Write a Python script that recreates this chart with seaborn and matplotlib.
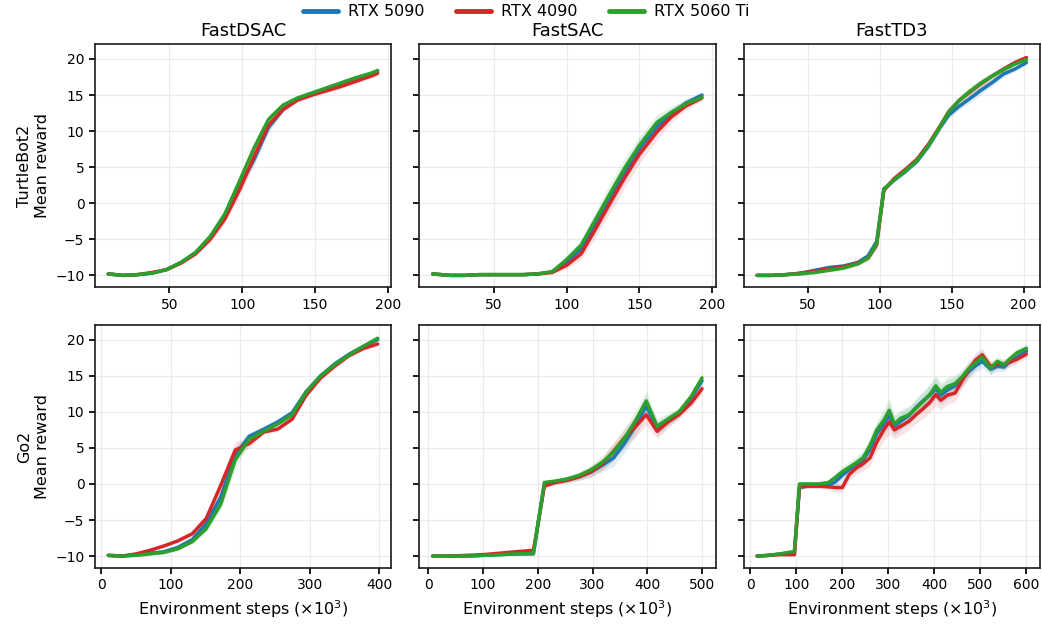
import numpy as np
import matplotlib
matplotlib.use("Agg")
import matplotlib.pyplot as plt
import seaborn as sns

# === Data (mean reward, +/- spread) ===
gpus = ["RTX 5090", "RTX 4090", "RTX 5060 Ti"]
colors = ["#1f77b4", "#d62728", "#2ca02c"]
algos = ["FastDSAC", "FastSAC", "FastTD3"]
robots = ["TurtleBot2", "Go2"]

# TurtleBot2 / FastDSAC
tb_dsac_x = [8, 18, 28, 38, 48, 58, 68, 78, 88, 98, 108, 118, 128, 138, 148, 158, 168, 178, 188, 193]
tb_dsac_5090 = [-9.8, -10.0, -9.9, -9.7, -9.2, -8.2, -6.9, -4.8, -1.8, 2.3, 6.0, 10.5, 13.0, 14.4, 15.2, 15.9, 16.6, 17.3, 17.9, 18.3]
tb_dsac_4090 = [-9.8, -10.0, -9.9, -9.6, -9.2, -8.3, -7.0, -5.0, -2.2, 1.8, 6.4, 10.8, 13.0, 14.3, 15.0, 15.6, 16.2, 16.9, 17.6, 18.0]
tb_dsac_5060 = [-9.8, -10.0, -9.9, -9.7, -9.2, -8.2, -6.8, -4.6, -1.5, 3.0, 7.6, 11.6, 13.6, 14.6, 15.3, 16.0, 16.7, 17.4, 18.0, 18.4]
tb_dsac_sd = [0.1, 0.1, 0.1, 0.1, 0.15, 0.2, 0.3, 0.4, 0.6, 0.8, 0.9, 0.7, 0.4, 0.3, 0.3, 0.3, 0.3, 0.3, 0.3, 0.3]

# TurtleBot2 / FastSAC
tb_sac_x = [8, 20, 30, 40, 50, 60, 70, 80, 90, 100, 110, 120, 130, 140, 150, 162, 172, 182, 193]
tb_sac_5090 = [-9.8, -10.0, -10.0, -9.9, -9.9, -9.9, -9.9, -9.8, -9.5, -8.2, -6.3, -2.8, 0.8, 4.3, 7.6, 10.6, 12.4, 13.9, 15.0]
tb_sac_4090 = [-9.8, -10.0, -10.0, -9.9, -9.9, -9.9, -9.9, -9.8, -9.6, -8.6, -7.0, -3.5, 0.1, 3.6, 6.8, 9.9, 12.0, 13.5, 14.6]
tb_sac_5060 = [-9.8, -10.0, -10.0, -9.9, -9.9, -9.9, -9.9, -9.8, -9.5, -7.8, -5.8, -2.2, 1.4, 4.9, 8.0, 11.2, 12.6, 13.8, 14.7]
tb_sac_sd = [0.1, 0.1, 0.1, 0.1, 0.1, 0.1, 0.1, 0.1, 0.2, 0.5, 0.8, 1.2, 1.4, 1.4, 1.3, 1.1, 0.8, 0.6, 0.4]

# TurtleBot2 / FastTD3
tb_td3_x = [15, 25, 35, 45, 55, 65, 75, 85, 92, 98, 103, 110, 118, 126, 134, 142, 148, 155, 162, 170, 178, 186, 194, 202]
tb_td3_5090 = [-10.0, -10.0, -9.9, -9.7, -9.3, -8.9, -8.7, -8.2, -7.3, -5.3, 1.9, 3.2, 4.4, 5.8, 7.9, 10.5, 12.2, 13.4, 14.4, 15.6, 16.7, 17.9, 18.6, 19.5]
tb_td3_4090 = [-10.0, -10.0, -9.9, -9.7, -9.4, -9.1, -8.8, -8.3, -7.6, -5.8, 1.8, 3.4, 4.7, 6.1, 8.2, 10.7, 12.7, 14.2, 15.3, 16.5, 17.6, 18.6, 19.5, 20.2]
tb_td3_5060 = [-10.0, -10.0, -9.9, -9.8, -9.6, -9.3, -9.0, -8.4, -7.6, -5.6, 2.0, 3.2, 4.5, 5.9, 8.0, 10.6, 12.6, 14.2, 15.4, 16.6, 17.6, 18.5, 19.3, 19.9]
tb_td3_sd = [0.1, 0.1, 0.1, 0.15, 0.2, 0.2, 0.2, 0.3, 0.4, 0.6, 0.3, 0.3, 0.3, 0.3, 0.4, 0.5, 0.5, 0.5, 0.6, 0.6, 0.5, 0.4, 0.3, 0.3]

# Go2 / FastDSAC
go_dsac_x = [10, 30, 50, 70, 90, 110, 131, 151, 172, 193, 213, 234, 254, 275, 295, 316, 337, 357, 378, 398]
go_dsac_5090 = [-9.9, -10.0, -9.8, -9.6, -9.4, -8.8, -7.7, -5.5, -1.8, 4.0, 6.6, 7.6, 8.6, 9.9, 12.8, 15.0, 16.7, 18.0, 19.1, 20.0]
go_dsac_4090 = [-9.9, -10.0, -9.7, -9.2, -8.6, -7.9, -6.9, -4.8, -0.2, 4.7, 5.6, 7.2, 7.6, 9.0, 12.3, 14.7, 16.4, 17.8, 18.8, 19.4]
go_dsac_5060 = [-9.9, -10.0, -9.9, -9.7, -9.5, -9.0, -8.0, -6.2, -2.8, 3.4, 6.2, 7.3, 8.3, 9.6, 12.7, 15.0, 16.6, 17.9, 19.1, 20.2]
go_dsac_sd = [0.1, 0.1, 0.1, 0.1, 0.2, 0.2, 0.3, 0.5, 0.8, 1.2, 0.6, 0.3, 0.3, 0.3, 0.3, 0.3, 0.3, 0.3, 0.3, 0.3]

# Go2 / FastSAC
go_sac_x = [8, 40, 70, 100, 130, 160, 192, 212, 232, 254, 276, 298, 318, 338, 358, 378, 398, 418, 438, 458, 480, 500]
go_sac_5090 = [-10.0, -10.0, -10.0, -9.9, -9.8, -9.7, -9.7, 0.0, 0.3, 0.6, 1.0, 1.7, 2.6, 3.6, 5.6, 8.0, 10.8, 7.7, 8.8, 9.8, 11.9, 14.3]
go_sac_4090 = [-10.0, -10.0, -9.9, -9.8, -9.6, -9.4, -9.2, -0.3, 0.2, 0.5, 1.0, 1.7, 2.8, 4.5, 6.4, 7.9, 9.6, 7.3, 8.6, 9.6, 11.2, 13.2]
go_sac_5060 = [-10.0, -10.0, -10.0, -9.9, -9.8, -9.7, -9.6, 0.2, 0.4, 0.7, 1.2, 2.0, 3.0, 4.4, 6.3, 8.7, 11.5, 8.0, 9.0, 10.0, 12.1, 14.7]
go_sac_sd = [0.1, 0.1, 0.1, 0.1, 0.1, 0.1, 0.2, 0.3, 0.3, 0.4, 0.5, 0.7, 0.9, 1.2, 1.3, 1.4, 1.4, 1.0, 0.8, 0.6, 0.6, 0.7]

# Go2 / FastTD3
go_td3_x = [15, 40, 65, 96, 107, 125, 150, 170, 185, 200, 215, 230, 245, 260, 275, 290, 302, 313, 327, 345,
            360, 375, 390, 403, 414, 428, 445, 461, 475, 490, 504, 522, 537, 551, 565, 580, 600]
go_td3_5090 = [-10.0, -9.9, -9.7, -9.5, -0.5, -0.3, -0.3, -0.2, 0.3, 1.2, 2.0, 2.6, 3.3, 4.8, 7.0, 8.3, 9.5, 8.0, 8.7, 9.5,
               10.6, 11.5, 12.3, 13.2, 12.3, 13.0, 13.6, 14.6, 15.6, 16.4, 17.0, 15.9, 16.3, 16.2, 17.0, 17.6, 18.4]
go_td3_4090 = [-10.0, -9.9, -9.8, -9.8, -0.4, -0.3, -0.3, -0.4, -0.5, -0.5, 1.3, 2.2, 2.8, 3.6, 5.8, 7.5, 8.6, 7.5, 8.0, 8.7,
               9.6, 10.4, 11.3, 12.4, 11.6, 12.3, 12.6, 14.4, 15.9, 17.2, 17.9, 16.3, 16.6, 16.6, 16.9, 17.3, 18.0]
go_td3_5060 = [-10.0, -9.9, -9.7, -9.35, 0.0, 0.0, 0.0, 0.2, 0.9, 1.7, 2.3, 2.9, 3.6, 5.3, 7.5, 8.8, 10.2, 8.3, 9.1, 9.6,
               10.5, 11.4, 12.4, 13.6, 12.7, 13.5, 13.9, 14.9, 16.0, 16.8, 17.6, 16.0, 17.0, 16.5, 17.4, 18.2, 18.8]
go_td3_sd = [0.1, 0.1, 0.1, 0.2, 0.3, 0.3, 0.3, 0.4, 0.6, 0.7, 0.8, 0.9, 1.0, 1.1, 1.3, 1.5, 1.7, 1.3, 1.2, 1.2,
             1.2, 1.3, 1.4, 1.5, 1.3, 1.3, 1.2, 1.1, 1.0, 1.0, 0.9, 0.8, 0.7, 0.7, 0.6, 0.6, 0.6]

panels = [
    [(tb_dsac_x, [tb_dsac_5090, tb_dsac_4090, tb_dsac_5060], tb_dsac_sd),
     (tb_sac_x, [tb_sac_5090, tb_sac_4090, tb_sac_5060], tb_sac_sd),
     (tb_td3_x, [tb_td3_5090, tb_td3_4090, tb_td3_5060], tb_td3_sd)],
    [(go_dsac_x, [go_dsac_5090, go_dsac_4090, go_dsac_5060], go_dsac_sd),
     (go_sac_x, [go_sac_5090, go_sac_4090, go_sac_5060], go_sac_sd),
     (go_td3_x, [go_td3_5090, go_td3_4090, go_td3_5060], go_td3_sd)],
]

# === Style ===
sns.set_theme(style="ticks", rc={
    "axes.grid": True,
    "grid.color": "#ebebeb",
    "grid.linewidth": 0.9,
    "axes.edgecolor": "#1a1a1a",
    "axes.linewidth": 1.2,
    "axes.labelcolor": "black",
    "text.color": "black",
    "xtick.color": "black",
    "ytick.color": "black",
    "xtick.labelsize": 10,
    "ytick.labelsize": 10,
    "xtick.major.size": 4,
    "ytick.major.size": 4,
})
plt.rcParams["font.family"] = ["DejaVu Sans"]

fig, axes = plt.subplots(2, 3, figsize=(10.42, 6.24), dpi=100, sharey=True)
fig.subplots_adjust(left=0.091, right=0.998, top=0.929, bottom=0.090, wspace=0.095, hspace=0.156)

for r in range(2):
    for c in range(3):
        ax = axes[r, c]
        x, series, sd = panels[r][c]
        x = np.array(x)
        sd = np.array(sd)
        for ys, col, name in zip(series, colors, gpus):
            ys = np.array(ys)
            ax.fill_between(x, ys - sd, ys + sd, color=col, alpha=0.13, lw=0)
            sns.lineplot(x=x, y=ys, ax=ax, color=col, lw=2.5, label=name, legend=False)
        ax.set_axisbelow(True)
        if r == 0:
            ax.set_title(algos[c], fontsize=13)
            ax.set_xticks([50, 100, 150, 200])
        else:
            ax.set_xlabel(r"Environment steps ($\times 10^3$)", fontsize=11.5)
        if c == 0:
            ax.set_ylabel(f"{robots[r]}\nMean reward", fontsize=11.5)
        ax.set_yticks([-10, -5, 0, 5, 10, 15, 20])

handles = axes[0, 0].get_lines()[:3]
fig.legend(handles, gpus, loc="center", bbox_to_anchor=(0.505, 0.981), ncol=3,
           frameon=False, fontsize=11.5, handlelength=2.2, columnspacing=2.0,
           handletextpad=0.6)
for h in fig.legends[0].get_lines():
    h.set_linewidth(3.5)

plt.savefig("out.png", dpi=100)
